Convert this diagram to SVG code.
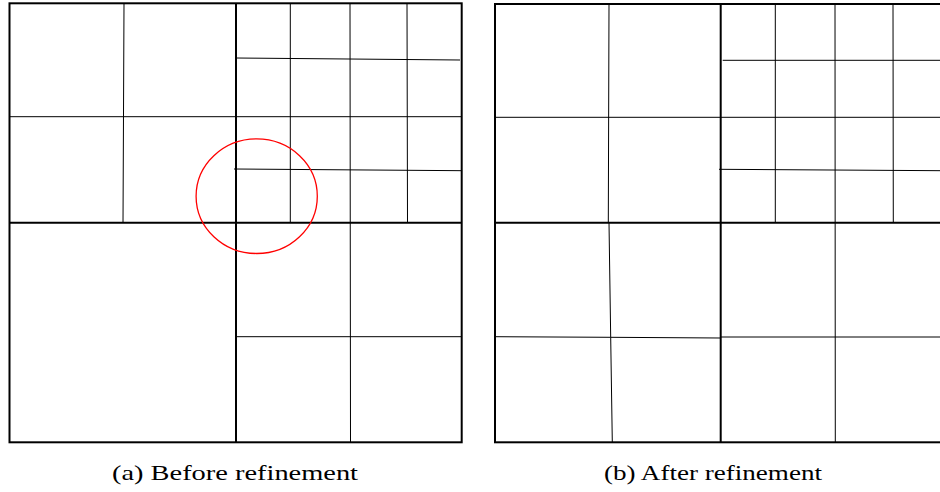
<svg xmlns="http://www.w3.org/2000/svg" width="940" height="492" viewBox="0 0 940 492">
<style>
.thick{fill:none;stroke:#000;stroke-width:2}
.thin{fill:none;stroke:#000;stroke-width:1}
.cap{font-family:"Liberation Serif","DejaVu Serif",serif;font-size:21.5px;fill:#000}
</style>
<rect width="940" height="492" fill="#fff"/>
<g id="panel-a">
<g id="a-thin">
<line class="thin" x1="124" y1="3.3" x2="123" y2="222.7"/>
<line class="thin" x1="9.5" y1="116.7" x2="236" y2="116.7"/>
<line class="thin" x1="290.3" y1="3.3" x2="290.3" y2="222.7"/>
<line class="thin" x1="350" y1="3.3" x2="350.5" y2="442.3"/>
<line class="thin" x1="407" y1="3.3" x2="407.5" y2="222.7"/>
<line class="thin" x1="236" y1="58" x2="460" y2="60"/>
<line class="thin" x1="236" y1="116.7" x2="461.7" y2="116.7"/>
<line class="thin" x1="234" y1="169" x2="461.7" y2="170.7"/>
<line class="thin" x1="236" y1="336.7" x2="461.7" y2="336.7"/>
</g>
<g id="a-thick">
<rect class="thick" x="9.5" y="3.3" width="452.2" height="439"/>
<line class="thick" x1="236" y1="3.3" x2="236" y2="442.3"/>
<line class="thick" x1="9.5" y1="222.7" x2="461.7" y2="222.7"/>
</g>
<ellipse id="highlight" cx="256.7" cy="196.2" rx="60.6" ry="57.3" fill="none" stroke="#ff0000" stroke-width="1.3"/>
<text id="caption-a" class="cap" x="112" y="480" textLength="246" lengthAdjust="spacingAndGlyphs">(a) Before refinement</text>
</g>
<g id="panel-b">
<g id="b-thin">
<line class="thin" x1="609" y1="4" x2="608.3" y2="222.7"/>
<line class="thin" x1="495" y1="117.3" x2="720.7" y2="117.3"/>
<line class="thin" x1="775.3" y1="4" x2="775.3" y2="222.7"/>
<line class="thin" x1="835" y1="4" x2="835.3" y2="442.3"/>
<line class="thin" x1="893" y1="4" x2="893.3" y2="222.7"/>
<line class="thin" x1="722.7" y1="60.3" x2="940" y2="60.3"/>
<line class="thin" x1="720.7" y1="117.3" x2="940" y2="117.3"/>
<line class="thin" x1="719" y1="169.3" x2="940" y2="170.7"/>
<polyline class="thin" points="609,222.7 610.7,337.3 612.3,442.3"/>
<polyline class="thin" points="494,336.7 610.7,337.3 720.7,338"/>
<line class="thin" x1="720.7" y1="337" x2="940" y2="337"/>
</g>
<g id="b-thick">
<rect class="thick" x="495" y="4" width="452" height="438.3"/>
<line class="thick" x1="720.7" y1="4" x2="720.7" y2="442.3"/>
<line class="thick" x1="495" y1="222.7" x2="947" y2="222.7"/>
</g>
<text id="caption-b" class="cap" x="604" y="480" textLength="218" lengthAdjust="spacingAndGlyphs">(b) After refinement</text>
</g>
</svg>
